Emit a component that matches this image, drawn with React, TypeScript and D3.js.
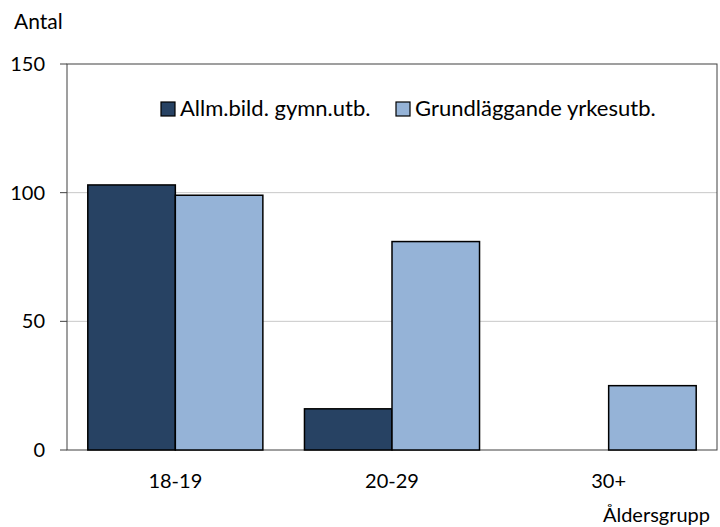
import { useMemo } from 'react';
import * as d3 from 'd3';

const categories = ['18-19', '20-29', '30+'];
const seriesNames = ['Allm.bild. gymn.utb.', 'Grundläggande yrkesutb.'];
const allmValues = [103, 16, 0];
const grundValues = [99, 81, 25];
const yTicks = [0, 50, 100, 150];

const COLORS = ['#274263', '#95b3d7'];
const FONT = 'Lato, "Open Sans", sans-serif';
const FS = 20;
const LEGEND_FS = 22;

const W = 720;
const H = 527;
const margin = { top: 64, right: 3, bottom: 77, left: 67 };

export default function App() {
  const innerW = W - margin.left - margin.right;
  const innerH = H - margin.top - margin.bottom;

  const { x0, x1, y } = useMemo(() => {
    const x0 = d3.scaleBand().domain(categories).range([0, innerW]).paddingInner(0.192).paddingOuter(0.096);
    const x1 = d3.scaleBand().domain(seriesNames).range([0, x0.bandwidth()]);
    const y = d3.scaleLinear().domain([0, 150]).range([innerH, 0]);
    return { x0, x1, y };
  }, [innerW, innerH]);

  const series = [allmValues, grundValues];

  return (
    <svg width={W} height={H} style={{ position: 'absolute', left: 0, top: 0, fontFamily: FONT }}>
      <rect width={W} height={H} fill="#ffffff" />
      <text x={14} y={29} fontSize={21} fill="#000">Antal</text>
      <g transform={`translate(${margin.left},${margin.top})`}>
        {yTicks.map(t => (
          <g key={t}>
            {t > 0 && t < 150 && (
              <line x1={0} x2={innerW} y1={y(t)} y2={y(t)} stroke="#c8c8c8" strokeWidth={1} />
            )}
            <line x1={-7} x2={0} y1={y(t)} y2={y(t)} stroke="#404040" strokeWidth={1} />
            <text x={-22} y={y(t)} dy="0.35em" textAnchor="end" fontSize={FS} fill="#000">{t}</text>
          </g>
        ))}
        <rect x={0} y={0} width={innerW} height={innerH} fill="none" stroke="#404040" strokeWidth={1} />
        {categories.map((c, i) => (
          <g key={c} transform={`translate(${x0(c)},0)`}>
            {series.map((vals, s) =>
              vals[i] > 0 ? (
                <rect
                  key={s}
                  x={x1(seriesNames[s])}
                  y={y(vals[i])}
                  width={x1.bandwidth()}
                  height={innerH - y(vals[i])}
                  fill={COLORS[s]}
                  stroke="#000"
                  strokeWidth={1.5}
                />
              ) : null
            )}
            <text x={x0.bandwidth() / 2} y={innerH + 38} textAnchor="middle" fontSize={FS} fill="#000">{c}</text>
          </g>
        ))}
      </g>
      <g transform="translate(161,102)">
        <rect x={0} y={0} width={14} height={14} fill={COLORS[0]} stroke="#000" strokeWidth={1.2} />
        <text x={19} y={14} fontSize={LEGEND_FS} fill="#000">{seriesNames[0]}</text>
        <rect x={235} y={0} width={14} height={14} fill={COLORS[1]} stroke="#000" strokeWidth={1.2} />
        <text x={254} y={14} fontSize={LEGEND_FS} fill="#000">{seriesNames[1]}</text>
      </g>
      <text x={710} y={522} textAnchor="end" fontSize={FS} fill="#000">Åldersgrupp</text>
    </svg>
  );
}
